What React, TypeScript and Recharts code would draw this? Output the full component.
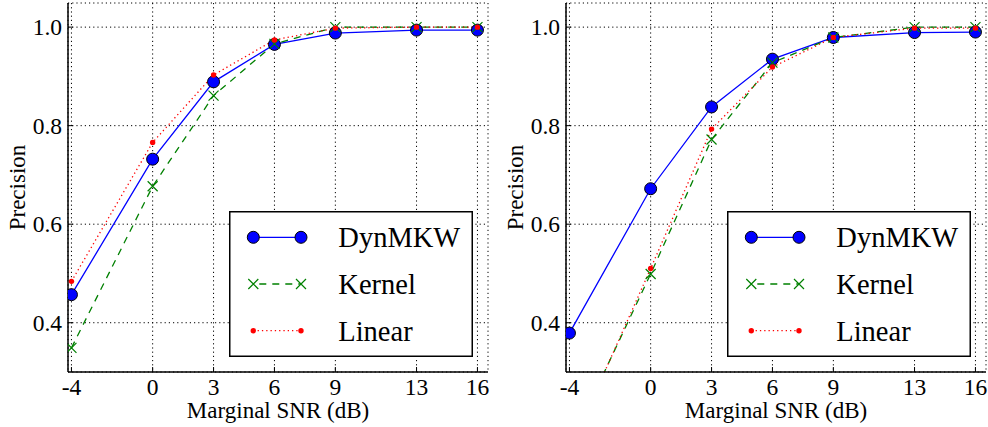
import React from 'react';
import { LineChart, Line, XAxis, YAxis, CartesianGrid, Legend, Label } from 'recharts';

const snr = [-4, 0, 3, 6, 9, 13, 16];
const xTicks = [-4, 0, 3, 6, 9, 13, 16];
const yTicks = [0.4, 0.6, 0.8, 1.0];

const leftDyn = [0.457, 0.732, 0.889, 0.965, 0.988, 0.994, 0.994];
const leftKernel = [0.349, 0.677, 0.861, 0.966, 1.0, 1.0, 1.0];
const leftLinear = [0.484, 0.766, 0.903, 0.974, 0.998, 1.0, 1.0];

const rightDyn = [0.379, 0.672, 0.838, 0.935, 0.979, 0.989, 0.99];
const rightKernel = [0.15, 0.499, 0.772, 0.928, 0.979, 1.0, 1.0];
const rightLinear = [0.14, 0.51, 0.793, 0.919, 0.979, 0.998, 0.998];

const seriesNames = ['DynMKW', 'Kernel', 'Linear'];
const xLabel = 'Marginal SNR (dB)';
const yLabel = 'Precision';

const FONT = 'Liberation Serif, Times New Roman, serif';
const TS = { fontFamily: FONT };
const BLUE = '#0000ff';
const GREEN = '#008000';
const RED = '#ff0000';

const build = (dyn: number[], ker: number[], lin: number[]) =>
  snr.map((x, i) => ({ snr: x, dyn: dyn[i], kernel: ker[i], linear: lin[i] }));

const leftData = build(leftDyn, leftKernel, leftLinear);
const rightData = build(rightDyn, rightKernel, rightLinear);

const CircleDot = (p: any) => {
  if (p.cx == null || p.cy == null) return <g key={p.key} />;
  return <circle key={p.key} cx={p.cx} cy={p.cy} r={6} fill={BLUE} stroke="#000" strokeWidth={1} />;
};
const CrossDot = (p: any) => {
  if (p.cx == null || p.cy == null) return <g key={p.key} />;
  const { cx, cy } = p;
  const s = 5;
  return (
    <path
      key={p.key}
      d={`M${cx - s},${cy - s}L${cx + s},${cy + s}M${cx - s},${cy + s}L${cx + s},${cy - s}`}
      stroke={GREEN}
      strokeWidth={1.2}
      fill="none"
    />
  );
};
const SmallDot = (p: any) => {
  if (p.cx == null || p.cy == null) return <g key={p.key} />;
  return <circle key={p.key} cx={p.cx} cy={p.cy} r={2.7} fill={RED} stroke="none" />;
};

const BottomTick = (p: any) => {
  const { x, y, payload } = p;
  return (
    <g>
      <line x1={x} y1={y} x2={x} y2={y - 5} stroke="#000" strokeWidth={1} />
      <text x={x} y={y + 23} textAnchor="middle" style={TS} fontSize={23.5} fill="#000">
        {payload.value}
      </text>
    </g>
  );
};
const TopTick = (p: any) => {
  const { x, y } = p;
  return <line x1={x} y1={y} x2={x} y2={y + 5} stroke="#000" strokeWidth={1} />;
};
const LeftTick = (p: any) => {
  const { x, y, payload } = p;
  return (
    <g>
      <line x1={x} y1={y} x2={x + 5} y2={y} stroke="#000" strokeWidth={1} />
      <text x={x - 6} y={y + 8} textAnchor="end" style={TS} fontSize={23.5} fill="#000">
        {Number(payload.value).toFixed(1)}
      </text>
    </g>
  );
};
const RightTick = (p: any) => {
  const { x, y } = p;
  return <line x1={x} y1={y} x2={x - 5} y2={y} stroke="#000" strokeWidth={1} />;
};

const XLabelContent = (p: any) => {
  const vb = p.viewBox || {};
  return (
    <text x={vb.x + vb.width / 2} y={vb.y + 46} textAnchor="middle" style={TS} fontSize={23} fill="#000">
      {xLabel}
    </text>
  );
};
const YLabelContent = (p: any) => {
  const vb = p.viewBox || {};
  const bx = vb.x + vb.width - 43;
  const cy = vb.y + vb.height / 2;
  return (
    <text
      x={bx}
      y={cy}
      transform={`rotate(-90 ${bx} ${cy})`}
      textAnchor="middle"
      style={TS}
      fontSize={23}
      fill="#000"
    >
      {yLabel}
    </text>
  );
};

const LegendBox = () => {
  const rows = [26.3, 73, 119.7];
  return (
    <svg width={244} height={146} style={{ display: 'block' }}>
      <rect x={0.75} y={0.75} width={242.5} height={144.5} fill="#fff" stroke="#000" strokeWidth={1.5} />
      <line x1={24.3} y1={rows[0]} x2={72} y2={rows[0]} stroke={BLUE} strokeWidth={1.3} />
      <circle cx={24.3} cy={rows[0]} r={6} fill={BLUE} stroke="#000" strokeWidth={1} />
      <circle cx={72} cy={rows[0]} r={6} fill={BLUE} stroke="#000" strokeWidth={1} />
      <line x1={24.3} y1={rows[1]} x2={72} y2={rows[1]} stroke={GREEN} strokeWidth={1.3} strokeDasharray="7 6" strokeDashoffset={-6} />
      {[24.3, 72].map((cx) => (
        <path
          key={cx}
          d={`M${cx - 5},${rows[1] - 5}L${cx + 5},${rows[1] + 5}M${cx - 5},${rows[1] + 5}L${cx + 5},${rows[1] - 5}`}
          stroke={GREEN}
          strokeWidth={1.2}
        />
      ))}
      <line x1={24.3} y1={rows[2]} x2={72} y2={rows[2]} stroke={RED} strokeWidth={1.3} strokeDasharray="1.3 3" />
      <circle cx={24.3} cy={rows[2]} r={2.7} fill={RED} />
      <circle cx={72} cy={rows[2]} r={2.7} fill={RED} />
      {seriesNames.map((n, i) => (
        <text key={n} x={109.3} y={rows[i] + 10} style={TS} fontSize={28.5} fill="#000">
          {n}
        </text>
      ))}
    </svg>
  );
};

const X_DOMAIN: [number, number] = [-4.17, 16.52];
const Y_DOMAIN: [number, number] = [0.3, 1.049];

function Panel({ data, left, marginLeft, marginRight, legendLeft }: any) {
  return (
    <div style={{ position: 'absolute', left, top: 0 }}>
      <LineChart
        width={494}
        height={427}
        data={data}
        margin={{ top: 3, right: marginRight, bottom: 15, left: marginLeft }}
      >
        <CartesianGrid xAxisId="b" yAxisId="l" stroke="#000" strokeDasharray="1.2 3" strokeWidth={1} />
        <XAxis
          xAxisId="b"
          dataKey="snr"
          type="number"
          domain={X_DOMAIN}
          ticks={xTicks}
          interval={0}
          allowDataOverflow
          height={40}
          tickSize={0}
          tickMargin={0}
          tick={<BottomTick />}
          axisLine={{ stroke: '#000', strokeWidth: 1.5 }}
        >
          <Label content={<XLabelContent />} />
        </XAxis>
        <XAxis
          xAxisId="t"
          orientation="top"
          dataKey="snr"
          type="number"
          domain={X_DOMAIN}
          ticks={xTicks}
          interval={0}
          allowDataOverflow
          height={0}
          tickSize={0}
          tickMargin={0}
          tick={<TopTick />}
          axisLine={{ stroke: '#000', strokeWidth: 1.5 }}
        />
        <YAxis
          yAxisId="l"
          type="number"
          domain={Y_DOMAIN}
          ticks={yTicks}
          interval={0}
          allowDataOverflow
          width={60}
          tickSize={0}
          tickMargin={0}
          tick={<LeftTick />}
          axisLine={{ stroke: '#000', strokeWidth: 1.5 }}
        >
          <Label content={<YLabelContent />} />
        </YAxis>
        <YAxis
          yAxisId="r"
          orientation="right"
          type="number"
          domain={Y_DOMAIN}
          ticks={yTicks}
          interval={0}
          allowDataOverflow
          width={0}
          tickSize={0}
          tickMargin={0}
          tick={<RightTick />}
          axisLine={{ stroke: '#000', strokeWidth: 1.5 }}
        />
        <Line
          xAxisId="b"
          yAxisId="l"
          type="linear"
          dataKey="dyn"
          name={seriesNames[0]}
          stroke={BLUE}
          strokeWidth={1.3}
          dot={CircleDot}
          activeDot={false}
          isAnimationActive={false}
        />
        <Line
          xAxisId="b"
          yAxisId="l"
          type="linear"
          dataKey="kernel"
          name={seriesNames[1]}
          stroke={GREEN}
          strokeWidth={1.3}
          strokeDasharray="7 6"
          dot={CrossDot}
          activeDot={false}
          isAnimationActive={false}
        />
        <Line
          xAxisId="b"
          yAxisId="l"
          type="linear"
          dataKey="linear"
          name={seriesNames[2]}
          stroke={RED}
          strokeWidth={1.3}
          strokeDasharray="1.3 3"
          dot={SmallDot}
          activeDot={false}
          isAnimationActive={false}
        />
        <Legend
          layout="vertical"
          align="center"
          verticalAlign="middle"
          content={<LegendBox />}
          wrapperStyle={{ left: legendLeft, top: 211, width: 244, height: 146 }}
        />
      </LineChart>
    </div>
  );
}

export default function App() {
  return (
    <div style={{ position: 'absolute', left: 0, top: 0, width: 988, height: 427, background: '#fff', fontFamily: FONT }}>
      <Panel data={leftData} left={0} marginLeft={8} marginRight={6} legendLeft={229} />
      <Panel data={rightData} left={494} marginLeft={12} marginRight={2} legendLeft={232.5} />
    </div>
  );
}
